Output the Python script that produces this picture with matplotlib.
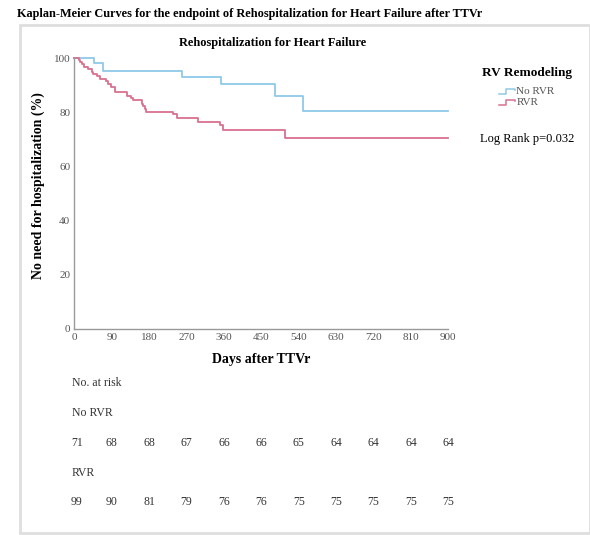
import numpy as np
import matplotlib.pyplot as plt
from matplotlib.lines import Line2D
from matplotlib.patches import Rectangle

plt.rcParams['font.family'] = ['Liberation Serif', 'DejaVu Serif']

# Kaplan-Meier step data (days, % free of rehospitalization)
no_rvr_days = [0, 47, 68, 258, 352, 482, 550, 900]
no_rvr_surv = [100, 98.2, 95.2, 93.2, 90.5, 86.1, 80.5, 80.5]

rvr_days = [0, 12, 14, 19, 24, 34, 42, 46, 54, 63, 76, 80, 88, 98, 126, 136, 142,
            162, 166, 170, 172, 238, 246, 298, 351, 357, 507, 900]
rvr_surv = [100, 99.3, 98.6, 97.8, 96.8, 95.9, 94.9, 94.3, 93.5, 92.5, 91.6, 90.6,
            89.4, 87.6, 86.1, 85.4, 84.5, 83.2, 82.4, 81.4, 80.2, 79.4, 78.0, 76.5,
            75.2, 73.6, 70.5, 70.5]

tick_days = [0, 90, 180, 270, 360, 450, 540, 630, 720, 810, 900]
risk_no_rvr = [71, 68, 68, 67, 66, 66, 65, 64, 64, 64, 64]
risk_rvr = [99, 90, 81, 79, 76, 76, 75, 75, 75, 75, 75]

blue = '#8fc9e8'
red = '#d9718f'

W, H = 590, 535
fig = plt.figure(figsize=(W / 100, H / 100), dpi=100)


def fx(px):
    return px / W


def fy(py):
    return 1 - py / H


# light frame around the chart area
fig.add_artist(Rectangle((fx(20), fy(533)), fx(590) - fx(20), fy(25) - fy(533),
                         transform=fig.transFigure, fill=False,
                         edgecolor='#dedede', linewidth=2))

ax = fig.add_axes([fx(74.3), fy(329), fx(448.3) - fx(74.3), fy(58.3) - fy(329)])
ax.step(no_rvr_days, no_rvr_surv, where='post', color=blue, lw=1.3, clip_on=False)
ax.step(rvr_days, rvr_surv, where='post', color=red, lw=1.3, clip_on=False)

ax.set_xlim(0, 900)
ax.set_ylim(0, 100)
ax.set_xticks(tick_days)
ax.set_yticks([0, 20, 40, 60, 80, 100])
ax.tick_params(length=0, labelsize=8, colors='#555555', pad=3)
for s in ['top', 'right']:
    ax.spines[s].set_visible(False)
for s in ['left', 'bottom']:
    ax.spines[s].set_color('#999999')
    ax.spines[s].set_linewidth(1)

fig.text(fx(17), fy(14), 'Kaplan-Meier Curves for the endpoint of Rehospitalization for Heart Failure after TTVr',
         fontsize=8.8, fontweight='bold', ha='left', va='center')
fig.text(fx(273), fy(43), 'Rehospitalization for Heart Failure',
         fontsize=8.9, fontweight='bold', ha='center', va='center')
fig.text(fx(38), fy(186), 'No need for hospitalization (%)', rotation=90,
         fontsize=10, fontweight='bold', ha='center', va='center')
fig.text(fx(261), fy(360), 'Days after TTVr', fontsize=10, fontweight='bold',
         ha='center', va='center')

# legend with step-shaped keys
fig.text(fx(527), fy(73), 'RV Remodeling', fontsize=9.5, fontweight='bold',
         ha='center', va='center')
for py, col, lab in [(91, blue, 'No RVR'), (102, red, 'RVR')]:
    fig.add_artist(Line2D([fx(499), fx(506), fx(506), fx(515), fx(515)],
                          [fy(py + 2.5), fy(py + 2.5), fy(py - 2.5), fy(py - 2.5), fy(py - 1)],
                          transform=fig.transFigure, color=col, lw=1.1))
    fig.text(fx(516.5), fy(py), lab, fontsize=8, color='#555555', ha='left', va='center')

fig.text(fx(527), fy(139), 'Log Rank p=0.032', fontsize=9, ha='center', va='center')

# number at risk table
fig.text(fx(72), fy(383), 'No. at risk', fontsize=8.5, color='#333333', ha='left', va='center')
fig.text(fx(72), fy(413), 'No RVR', fontsize=8.5, color='#333333', ha='left', va='center')
fig.text(fx(72), fy(473), 'RVR', fontsize=8.5, color='#333333', ha='left', va='center')
for d, a, b in zip(tick_days, risk_no_rvr, risk_rvr):
    xd = ax.transData.transform((d, 0))[0]
    xf = fig.transFigure.inverted().transform((xd, 0))[0]
    if d == 0:
        xf += fx(2.5)
    fig.text(xf, fy(443), str(a), fontsize=8.5, color='#333333', ha='center', va='center')
    fig.text(xf, fy(502), str(b), fontsize=8.5, color='#333333', ha='center', va='center')

fig.savefig('out.png', dpi=100)
